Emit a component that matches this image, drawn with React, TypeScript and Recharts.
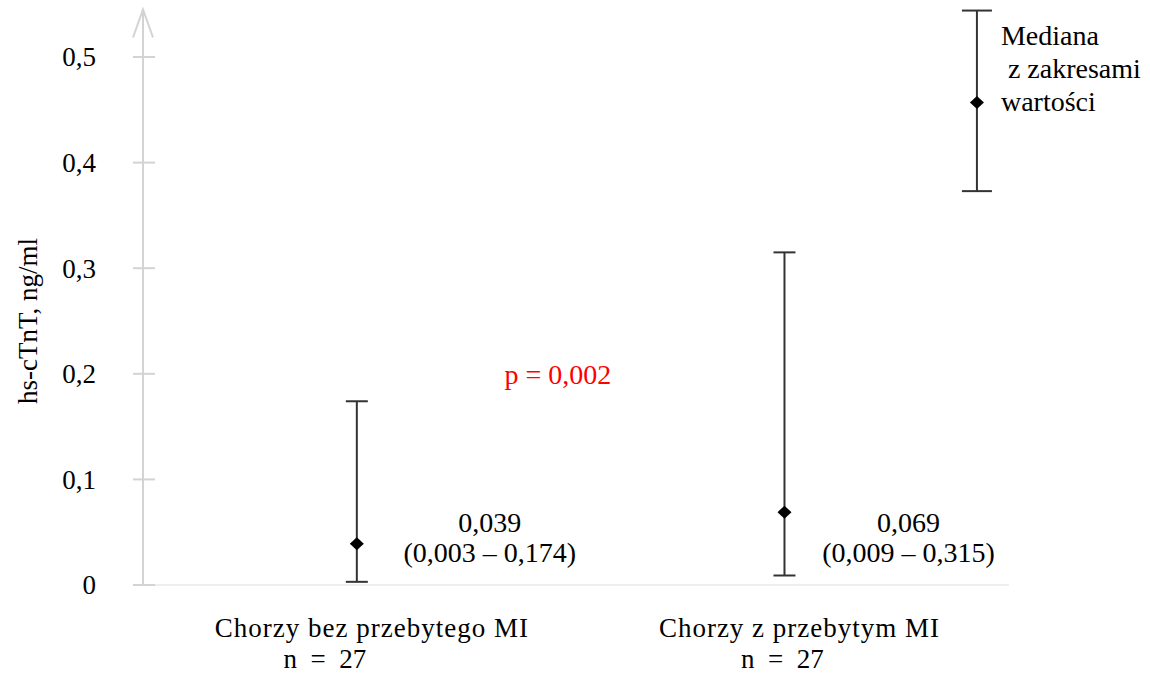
import React from "react";
import {
  ComposedChart,
  Scatter,
  ErrorBar,
  XAxis,
  YAxis,
  ReferenceDot,
} from "recharts";

// hs-cTnT: median with min–max range per patient group
const groups = ["Chorzy bez przebytego MI", "Chorzy z przebytym MI"];
const groupN = [27, 27];
const groupPos = [1, 3];
const medians = [0.039, 0.069];
const mins = [0.003, 0.009];
const maxs = [0.174, 0.315];

// sample whisker used as the key
const keyPos = 3.9;
const keyMedian = 0.457;
const keyMin = 0.373;
const keyMax = 0.544;
const keyLines = ["Mediana", " z zakresami", "wartości"];

const yTicks = [0, 0.1, 0.2, 0.3, 0.4, 0.5];
const pLabel = "p = 0,002";

const FONT = '"Liberation Serif", "Times New Roman", serif';
const AXIS_GRAY = "#d3d3d3";
const BAR = "#333333";

const comma = (v: number, digits = 3) => v.toFixed(digits).replace(".", ",");

const groupData = groups.map((name, i) => ({
  name,
  x: groupPos[i],
  y: medians[i],
  err: [medians[i] - mins[i], maxs[i] - medians[i]],
}));

const keyData = [
  { x: keyPos, y: keyMedian, err: [keyMedian - keyMin, keyMax - keyMedian] },
];

const Diamond = ({ cx, cy }: any) => (
  <path
    d={`M${cx},${cy - 6.5} L${cx + 7},${cy} L${cx},${cy + 6.5} L${cx - 7},${cy} Z`}
    fill="#000"
  />
);

const KeyShape = (props: any) => {
  const { cx, cy } = props;
  return (
    <g>
      <Diamond cx={cx} cy={cy} />
      {keyLines.map((t, i) => (
        <text
          key={i}
          x={cx + 24}
          y={cy - 57 + i * 33}
          fontFamily={FONT}
          fontSize={28}
          fill="#000"
          style={{ whiteSpace: "pre" }}
        >
          {t}
        </text>
      ))}
    </g>
  );
};

const YTick = ({ x, y, payload }: any) => (
  <g>
    <line x1={x - 10} x2={x + 12} y1={y} y2={y} stroke={AXIS_GRAY} strokeWidth={2} />
    <text
      x={x - 47}
      y={y}
      dy="0.35em"
      textAnchor="end"
      fontFamily={FONT}
      fontSize={27}
      fill="#000"
    >
      {payload.value === 0 ? "0" : comma(payload.value, 1)}
    </text>
  </g>
);

// category names under the axis plus the median/range text above it
const XTick = ({ x, y, index }: any) => {
  const nShift = index === 0 ? -32 : -2;
  const labelShift = index === 0 ? 133 : 124;
  return (
    <g fontFamily={FONT} fill="#000">
      <text
        x={x + 15}
        y={y + 52}
        textAnchor="middle"
        fontSize={27}
        letterSpacing={1}
      >
        {groups[index]}
      </text>
      <text
        x={x + nShift}
        y={y + 83}
        textAnchor="middle"
        fontSize={27}
        style={{ whiteSpace: "pre" }}
      >
        {`n  =  ${groupN[index]}`}
      </text>
      <text x={x + labelShift} y={y - 53} textAnchor="middle" fontSize={28}>
        {comma(medians[index])}
      </text>
      <text x={x + labelShift} y={y - 23} textAnchor="middle" fontSize={28}>
        {`(${comma(mins[index])} – ${comma(maxs[index])})`}
      </text>
    </g>
  );
};

const YTitle = ({ viewBox }: any) => {
  const { x, y, width } = viewBox;
  const ax = x + width;
  return (
    <g>
      <polyline
        points={`${ax - 10},${y + 28} ${ax},${y} ${ax + 10},${y + 28}`}
        fill="none"
        stroke={AXIS_GRAY}
        strokeWidth={2}
      />
      <text
        x={28}
        y={321}
        transform="rotate(-90 28 321)"
        textAnchor="middle"
        dominantBaseline="central"
        fontFamily={FONT}
        fontSize={27}
        fill="#000"
      >
        hs-cTnT, ng/ml
      </text>
    </g>
  );
};

const PText = ({ viewBox }: any) => (
  <text
    x={viewBox.x}
    y={viewBox.y}
    textAnchor="middle"
    fontFamily={FONT}
    fontSize={28}
    fill="#ff0000"
  >
    {pLabel}
  </text>
);

export default function App() {
  return (
    <div style={{ position: "absolute", left: 0, top: 0, background: "#fff" }}>
      <ComposedChart
        width={1150}
        height={674}
        margin={{ top: 9.5, right: 141, bottom: 0, left: 0 }}
      >
        <XAxis
          type="number"
          dataKey="x"
          domain={[0, 4.05]}
          ticks={groupPos}
          tick={<XTick />}
          tickLine={false}
          tickSize={0}
          tickMargin={0}
          axisLine={{ stroke: "#eeeeee", strokeWidth: 2 }}
          height={89}
          interval={0}
        />
        <YAxis
          type="number"
          domain={[0, 0.545]}
          ticks={yTicks}
          tick={<YTick />}
          tickLine={false}
          tickSize={0}
          tickMargin={0}
          axisLine={{ stroke: AXIS_GRAY, strokeWidth: 2 }}
          width={143}
          label={{ content: <YTitle /> }}
          allowDataOverflow
        />
        <Scatter data={groupData} dataKey="y" shape={<Diamond />} isAnimationActive={false}>
          <ErrorBar dataKey="err" direction="y" width={11} stroke={BAR} strokeWidth={2} />
        </Scatter>
        <Scatter data={keyData} dataKey="y" shape={<KeyShape />} isAnimationActive={false}>
          <ErrorBar dataKey="err" direction="y" width={15} stroke={BAR} strokeWidth={2} />
        </Scatter>
        <ReferenceDot
          x={1.94}
          y={0.19}
          r={0}
          fill="none"
          stroke="none"
          label={{ content: <PText /> }}
        />
      </ComposedChart>
    </div>
  );
}
